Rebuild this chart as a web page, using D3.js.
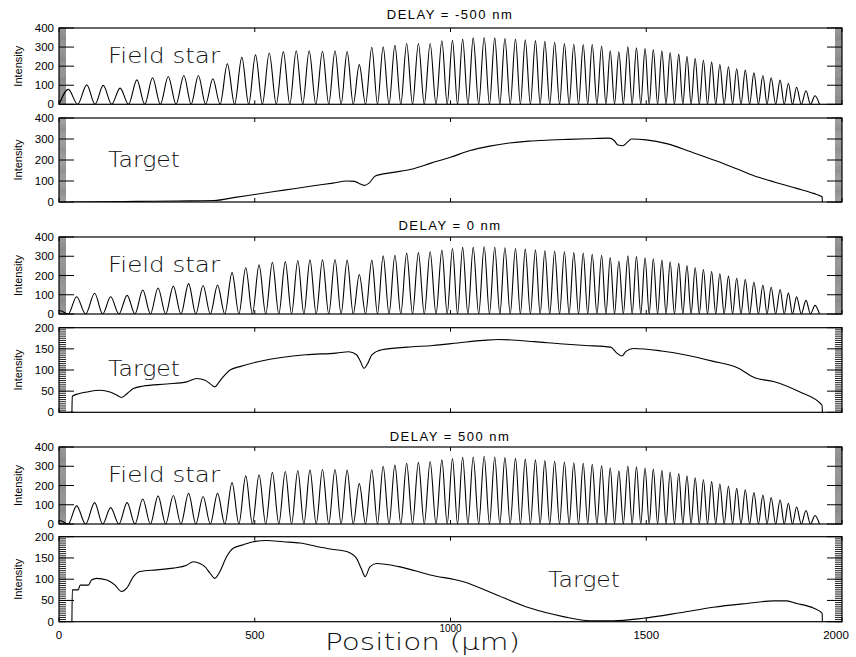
<!DOCTYPE html>
<html>
<head>
<meta charset="utf-8">
<script src="https://cdnjs.cloudflare.com/ajax/libs/d3/7.8.5/d3.min.js"></script>
<style>
  body { margin: 0; background: #fff; }
  text { font-family: "Liberation Sans", "DejaVu Sans", sans-serif; fill: #000; }
  .big { font-family: "DejaVu Sans", sans-serif; font-weight: 200; fill: #111; }
</style>
</head>
<body>
<svg id="chart" width="856" height="657"></svg>
<script>
// Field star fringes: peak positions (um) and peak heights
var starPeaksA = [24, 71, 113, 156, 199, 239, 279, 319, 356, 393, 430, 467, 502, 537, 573, 606, 639, 673, 705, 736,
  767, 799, 828, 858, 888, 918, 948, 978, 1005, 1031, 1058, 1086, 1113, 1139, 1166, 1191, 1217, 1241, 1266, 1291,
  1315, 1339, 1362, 1386, 1408, 1430, 1453, 1475, 1497, 1518, 1540, 1561, 1583, 1604, 1625, 1646, 1667, 1688, 1710, 1731,
  1753, 1775, 1798, 1819, 1842, 1863, 1884, 1908, 1931];
var starHeightsM500 = [78, 102, 99, 85, 128, 139, 146, 151, 151, 134,
  212, 246, 259, 269, 276, 281, 281, 278, 281, 276,
  208, 299, 302, 309, 319, 319, 319, 333, 335, 342,
  348, 350, 348, 345, 342, 338, 334, 330, 325, 318,
  315, 313, 313, 306, 280, 275, 301, 296, 292, 287,
  280, 271, 263, 252, 240, 231, 221, 209, 197, 186,
  179, 165, 151, 139, 127, 110, 89, 71, 45];

var starPeaksB = [2, 45, 91, 132, 174, 214, 253, 292, 331, 368, 405, 442, 477, 511, 545, 578, 610, 641, 673, 705,
  736, 767, 799, 828, 858, 888, 918, 948, 978, 1005, 1031, 1058, 1086, 1113, 1139, 1166, 1191, 1217, 1241, 1266,
  1291, 1315, 1339, 1362, 1386, 1408, 1430, 1453, 1475, 1497, 1518, 1540, 1561, 1583, 1604, 1625, 1646, 1667, 1688, 1710,
  1731, 1753, 1775, 1798, 1819, 1842, 1863, 1884, 1908, 1931];
var starHeights0 = [18, 90, 108, 90, 97, 125, 135, 145, 158, 148, 150,
  215, 240, 255, 268, 272, 278, 281, 281, 283, 280,
  205, 280, 302, 305, 316, 319, 323, 332, 340, 346,
  346, 351, 347, 344, 340, 337, 333, 328, 326, 323,
  319, 316, 310, 305, 293, 275, 302, 298, 292, 287,
  280, 271, 263, 252, 240, 231, 221, 209, 197, 186,
  179, 165, 151, 139, 127, 110, 89, 71, 45];
var starHeights500 = [18, 94, 111, 85, 111, 130, 146, 148, 160, 143, 160,
  215, 250, 256, 268, 273, 278, 281, 283, 283, 280,
  210, 282, 300, 306, 315, 320, 325, 333, 340, 347,
  348, 352, 348, 345, 341, 337, 333, 329, 326, 322,
  318, 315, 310, 304, 292, 276, 301, 297, 291, 286,
  279, 270, 262, 251, 240, 230, 220, 208, 196, 185,
  178, 164, 150, 138, 126, 108, 88, 70, 44];

// Target spectra: [position um, intensity]
var targetM500 = [[30, 0], [100, 1], [200, 3], [300, 5], [396, 7], [450, 22], [500, 36], [550, 50], [600, 63], [650, 77],
  [700, 90], [735, 100], [755, 98], [770, 86], [780, 79], [792, 90], [808, 124], [850, 140], [900, 156], [950, 185],
  [1000, 213], [1050, 245], [1100, 266], [1150, 281], [1200, 290], [1254, 295], [1300, 298], [1350, 301], [1405, 304],
  [1418, 293], [1428, 271], [1440, 268], [1452, 285], [1462, 300], [1500, 296], [1552, 278], [1612, 240], [1680, 195],
  [1739, 152], [1782, 120], [1810, 105], [1833, 92], [1884, 65], [1927, 41], [1949, 25], [1950, 0]];
var target0 = [[33, 0], [34, 38], [50, 44], [71, 48], [105, 52], [130, 48], [145, 42], [160, 35], [175, 45], [190, 56],
  [215, 62], [275, 67], [326, 72], [352, 80], [373, 76], [388, 66], [398, 60], [406, 68], [416, 80], [437, 100],
  [462, 108], [520, 122], [630, 136], [708, 140], [740, 143], [760, 136], [770, 120], [779, 104], [790, 118], [799, 136],
  [825, 148], [890, 154], [955, 158], [1019, 164], [1084, 170], [1123, 172], [1214, 167], [1279, 162], [1344, 158],
  [1409, 154], [1425, 140], [1438, 133], [1448, 144], [1468, 151], [1539, 145], [1604, 135], [1669, 121], [1734, 105],
  [1779, 81], [1825, 73], [1890, 49], [1949, 17], [1950, 0]];
var target500 = [[33, 0], [34, 75], [49, 75], [54, 86], [75, 86], [83, 98], [96, 102], [122, 98], [143, 86], [160, 71],
  [173, 79], [190, 106], [207, 118], [250, 122], [292, 126], [326, 133], [343, 141], [360, 137], [373, 129], [386, 114],
  [398, 102], [411, 118], [428, 153], [445, 173], [471, 181], [496, 188], [531, 191], [573, 188], [616, 185], [658, 177],
  [701, 170], [735, 165], [760, 149], [772, 125], [782, 106], [794, 129], [811, 137], [871, 129], [948, 110], [1033, 94],
  [1118, 63], [1203, 32], [1288, 12], [1356, 2], [1416, 2], [1492, 8], [1586, 21], [1671, 34], [1757, 43], [1825, 49],
  [1859, 49], [1884, 43], [1927, 32], [1949, 20], [1950, 0]];

var delayTitles = ["DELAY = -500 nm", "DELAY = 0 nm", "DELAY = 500 nm"];
var xTicks = [0, 500, 1000, 1500, 2000];
var ticks400 = [0, 100, 200, 300, 400];
var ticks200 = [0, 50, 100, 150, 200];

var svg = d3.select("#chart");
var left = 59, right = 842;
var x = d3.scaleLinear().domain([0, 2000]).range([left, right]);

var panels = [
  {top: 28, bottom: 104.3, kind: "star", peaks: starPeaksA, heights: starHeightsM500, ymax: 400, ticks: ticks400, label: "Field star", lx: 108},
  {top: 118, bottom: 202, kind: "target", data: targetM500, ymax: 400, ticks: ticks400, label: "Target", lx: 108, ly: 166.7},
  {top: 237, bottom: 314, kind: "star", peaks: starPeaksB, heights: starHeights0, ymax: 400, ticks: ticks400, label: "Field star", lx: 108},
  {top: 327.7, bottom: 412.3, kind: "target", data: target0, ymax: 200, ticks: ticks200, label: "Target", lx: 108, ly: 376},
  {top: 447, bottom: 524, kind: "star", peaks: starPeaksB, heights: starHeights500, ymax: 400, ticks: ticks400, label: "Field star", lx: 108},
  {top: 536.7, bottom: 621.7, kind: "target", data: target500, ymax: 200, ticks: ticks200, label: "Target", lx: 548, ly: 587}
];
var titleY = [18.5, 229.5, 440.5];

// fringe peaks with troughs halfway between them
function fringePoints(peaks, heights) {
  var pts = [];
  var n = peaks.length;
  pts.push([peaks[0] - (peaks[1] - peaks[0]) / 2, 0]);
  for (var i = 0; i < n; i++) {
    pts.push([peaks[i], heights[i]]);
    var next = i < n - 1 ? peaks[i + 1] : peaks[i] + (peaks[i] - peaks[i - 1]);
    pts.push([(peaks[i] + next) / 2, 0]);
  }
  return pts;
}

panels.forEach(function(p, k) {
  var y = d3.scaleLinear().domain([0, p.ymax]).range([p.bottom, p.top]);
  var g = svg.append("g");

  g.append("clipPath").attr("id", "clip" + k)
    .append("rect").attr("x", left).attr("y", p.top).attr("width", right - left).attr("height", p.bottom - p.top);

  var pts = p.kind == "star" ? fringePoints(p.peaks, p.heights) : p.data;
  var line = d3.line()
      .x(function(d) { return x(d[0]); })
      .y(function(d) { return y(d[1]); })
      .curve(d3.curveMonotoneX);

  g.append("path")
    .attr("d", line(pts))
    .attr("clip-path", "url(#clip" + k + ")")
    .attr("fill", "none")
    .attr("stroke", "#000")
    .attr("stroke-width", 1.1);

  // minor y ticks every 5 units
  var minor = d3.range(0, p.ymax + 0.1, 5);
  g.selectAll(".minor").data(minor).enter().append("path")
    .attr("d", function(v) {
      var yy = y(v);
      return "M" + left + "," + yy + "h7M" + right + "," + yy + "h-7";
    })
    .attr("stroke", "#000").attr("stroke-width", p.ymax == 400 ? 0.45 : 0.9);

  g.selectAll(".major").data(p.ticks).enter().append("path")
    .attr("d", function(v) {
      var yy = y(v);
      return "M" + left + "," + yy + "h15M" + right + "," + yy + "h-15";
    })
    .attr("stroke", "#000").attr("stroke-width", 1);

  g.selectAll(".xt").data(xTicks).enter().append("path")
    .attr("d", function(v) {
      return "M" + x(v) + "," + p.bottom + "v-4M" + x(v) + "," + p.top + "v4";
    })
    .attr("stroke", "#000").attr("stroke-width", 1);

  g.append("rect")
    .attr("x", left).attr("y", p.top)
    .attr("width", right - left).attr("height", p.bottom - p.top)
    .attr("fill", "none").attr("stroke", "#000").attr("stroke-width", 1.2);

  g.selectAll(".ylab").data(p.ticks).enter().append("text")
    .attr("x", 54)
    .attr("y", function(v) { return y(v) + 4; })
    .attr("text-anchor", "end")
    .style("font-size", "11.5px")
    .text(function(v) { return v; });

  g.append("text")
    .attr("transform", "translate(22," + ((p.top + p.bottom) / 2) + ") rotate(-90)")
    .attr("text-anchor", "middle")
    .style("font-size", "11px")
    .text("Intensity");

  var ly = p.ly || (p.top + 35);
  g.append("text")
    .attr("class", "big")
    .attr("x", p.lx).attr("y", ly)
    .attr("textLength", p.label == "Target" ? 72 : 112)
    .attr("lengthAdjust", "spacingAndGlyphs")
    .style("font-size", "22px")
    .text(p.label);
});

delayTitles.forEach(function(t, i) {
  svg.append("text")
    .attr("x", 450).attr("y", titleY[i])
    .attr("text-anchor", "middle")
    .style("font-size", "13px")
    .style("letter-spacing", "1.5px")
    .text(t);
});

svg.selectAll(".xlab").data(xTicks).enter().append("text")
  .attr("x", function(v) { return v == 2000 ? x(v) - 6 : x(v); })
  .attr("y", function(v) { return v == 1000 ? 632 : 639; })
  .attr("text-anchor", "middle")
  .style("font-size", function(v) { return v == 1000 ? "10px" : "11.5px"; })
  .text(function(v) { return v; });

svg.append("text")
  .attr("class", "big")
  .attr("x", 325).attr("y", 650)
  .attr("textLength", 195)
  .attr("lengthAdjust", "spacingAndGlyphs")
  .style("font-size", "23px")
  .text("Position (\u03bcm)");
</script>
</body>
</html>
